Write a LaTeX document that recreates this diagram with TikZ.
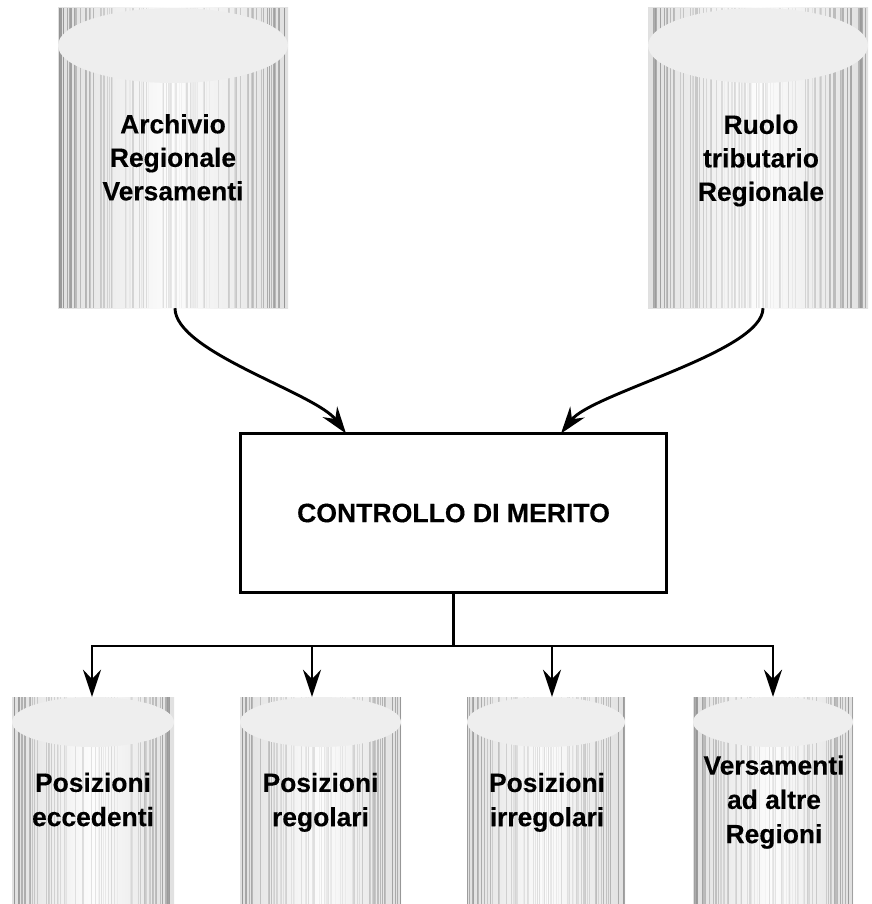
\documentclass[tikz,border=0pt]{standalone}
\usepackage{fontspec}
\setmainfont{Liberation Sans}[BoldFeatures={FakeBold=0.3}]
\usetikzlibrary{arrows.meta,calc}
\definecolor{cylTop}{HTML}{EEEEEE}
\newcommand{\stripefill}[4]{%
  \shade[left color=black!12, right color=black!12, middle color=black!1] (#1,#3) rectangle (#2,#4);
  \pgfmathtruncatemacro{\cn}{#2-#1-1}%
  \foreach \i in {0,...,\cn}{%
    \pgfmathsetmacro{\cr}{rnd}%
    \ifdim\cr pt<0.4pt
      \pgfmathsetmacro{\cx}{#1+\i+0.5}%
      \pgfmathsetmacro{\cd}{abs((\i+0.5)/(#2-#1)-0.5)*2}%
      \pgfmathsetmacro{\cv}{4+30*\cd*\cd+10*rnd}%
      \draw[line width=1pt, black!\cv] (\cx,#3) -- (\cx,#4);
    \fi
  }%
}
\begin{document}
\begin{tikzpicture}[x=1pt,y=-1pt,
  lbltop/.style={font=\fontsize{26.4}{33.5}\selectfont\bfseries, align=center, inner sep=0pt},
  lblbot/.style={font=\fontsize{26.4}{34.3}\selectfont\bfseries, align=center, inner sep=0pt},
  cylbody/.style={rectangle, inner sep=0pt},
  arr/.style={line width=2.9pt, -{Stealth[length=27pt,width=18pt,inset=9pt]}},
  link/.style={line width=3pt},
  box/.style={draw, line width=3pt, inner sep=0pt, minimum width=426pt, minimum height=159pt, font=\fontsize{26.6}{30}\selectfont\bfseries}]
\useasboundingbox (0,0) rectangle (871,904);
\pgfmathsetseed{4711}
% cylinders
\stripefill{58}{288}{8}{308}
\fill[cylTop] (173,45.5) ellipse [x radius=115pt, y radius=37.5pt];
\node[cylbody, minimum width=230pt, minimum height=300pt] (arv) at (173,158) {};
\stripefill{648}{868}{8}{308}
\fill[cylTop] (758,45.5) ellipse [x radius=110pt, y radius=37.5pt];
\node[cylbody, minimum width=220pt, minimum height=300pt] (ruolo) at (758,158) {};
\stripefill{12}{174}{697}{904}
\fill[cylTop] (93,722) ellipse [x radius=81pt, y radius=25pt];
\node[cylbody, minimum width=162pt, minimum height=207pt] (c1) at (93,800.5) {};
\stripefill{240}{401}{697}{904}
\fill[cylTop] (320.5,722) ellipse [x radius=80.5pt, y radius=25pt];
\node[cylbody, minimum width=161pt, minimum height=207pt] (c2) at (320.5,800.5) {};
\stripefill{467}{625}{697}{904}
\fill[cylTop] (546,722) ellipse [x radius=79pt, y radius=25pt];
\node[cylbody, minimum width=158pt, minimum height=207pt] (c3) at (546,800.5) {};
\stripefill{693}{853}{697}{904}
\fill[cylTop] (773,722) ellipse [x radius=80pt, y radius=25pt];
\node[cylbody, minimum width=160pt, minimum height=207pt] (c4) at (773,800.5) {};
% labels
\node[lbltop] (tA) at (173,157.4) {Archivio\\Regionale\\Versamenti};
\node[lbltop] (tB) at (761,160.6) {Ruolo\\tributario\\Regionale};
\node[lblbot] (t1) at (93,799.5) {Posizioni\\eccedenti};
\node[lblbot] (t2) at (320.5,802.3) {Posizioni\\regolari};
\node[lblbot] (t3) at (547,802.3) {Posizioni\\irregolari};
\node[lblbot] (t4) at (774,802.1) {Versamenti\\ad altre\\Regioni};
% central box
\node[box] (ctrl) at (453.5,513) {CONTROLLO DI MERITO};
% connectors
\coordinate (inA) at (346,433.5);
\coordinate (inB) at (561,433.5);
\draw[arr] ($(arv.south)+(2,0)$) .. controls (175,352) and (316,393) .. (inA);
\draw[arr] ($(ruolo.south)+(5,0)$) .. controls (763,352) and (592,393) .. (inB);
\coordinate (split) at (453.5,646);
\draw[link] (ctrl.south) -- (split);
\draw[arr] (split) -| ($(c1.north)+(-1,0)$);
\draw[arr] (split) -| ($(c2.north)+(-8.5,0)$);
\draw[arr] (split) -| ($(c3.north)+(6,0)$);
\draw[arr] (split) -| (c4.north);
\end{tikzpicture}
\end{document}
